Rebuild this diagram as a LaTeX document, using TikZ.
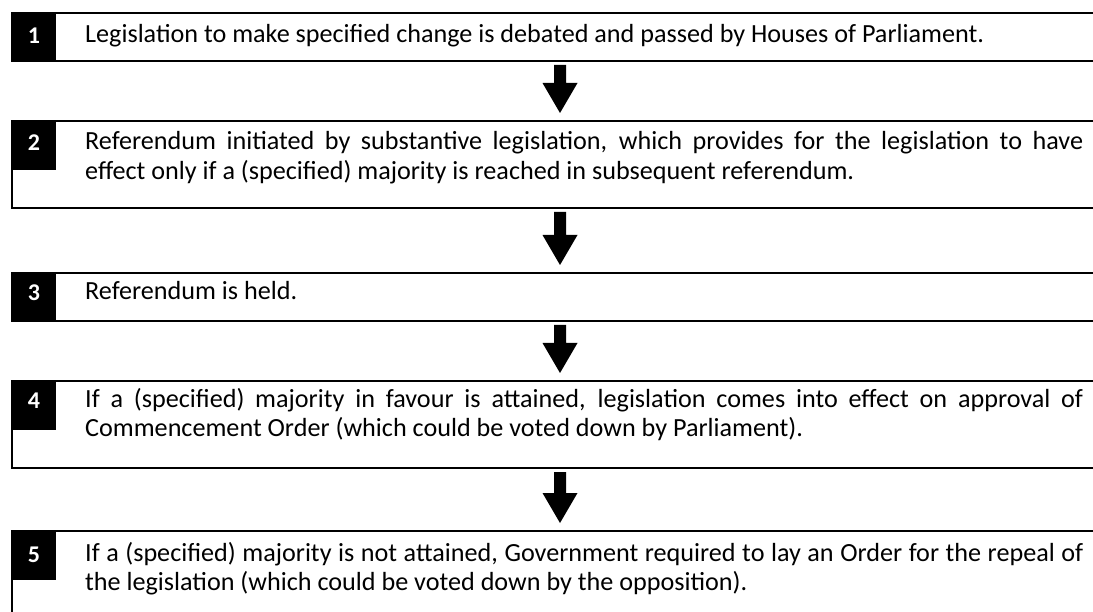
\documentclass[tikz,border=0pt]{standalone}
\usepackage{fontspec}
\setmainfont{Carlito}
\usetikzlibrary{calc}

% Downward block arrow between two stage boxes, centred on the arrow column
\newcommand\stagearrow[2]{%
  \fill ($(#1.south -| ax)+(-6,4)$) -- ($(#1.south -| ax)+(6,4)$)
     -- ($(#2.north -| ax)+(6,-38)$) -- ($(#2.north -| ax)+(17.5,-38)$)
     -- ($(#2.north -| ax)+(0,-8)$)
     -- ($(#2.north -| ax)+(-17.5,-38)$) -- ($(#2.north -| ax)+(-6,-38)$) -- cycle;}

\newlength\probewd

\begin{document}
% body size chosen so that this run of text is 615pt long
\settowidth\probewd{\fontsize{10}{12}\selectfont Legislation to make specified change is debated and passe}
\pgfmathsetmacro\bodysize{10*615/\probewd}
\begin{tikzpicture}[x=1pt,y=-1pt,
  rule/.style={line width=1.2pt},
  stage/.style={anchor=north west, minimum width=1081pt, inner sep=0pt, outer sep=0pt},
  numbox/.style={anchor=north west, fill=black, minimum width=44pt, minimum height=49pt, inner sep=0pt, outer sep=0pt},
  numlabel/.style={anchor=base, text=white, font=\fontsize{24}{24}\selectfont\bfseries, inner sep=0pt},
  bodytext/.style={anchor=base west, text width=998pt, align=justify, inner sep=0pt,
    font=\fontsize{\bodysize}{29.5}\selectfont},
]
\useasboundingbox (0,0) rectangle (1093,612);

% column of the arrows
\coordinate (ax) at (560,0);

% stage boxes
\node[stage, minimum height=48pt] (b1) at (12,13) {};
\node[stage, minimum height=87pt] (b2) at (12,121) {};
\node[stage, minimum height=48pt] (b3) at (12,273) {};
\node[stage, minimum height=87pt] (b4) at (12,381) {};
\node[stage, minimum height=100pt] (b5) at (12,531) {};

\foreach \b in {b1,b2,b3,b4}
  \draw[rule] (\b.north east) -- (\b.north west) -- (\b.south west) -- (\b.south east);
\draw[rule] (b5.north east) -- (b5.north west) -- (b5.south west);

% numbered tabs
\foreach \b/\n/\d in {b1/1/31,b2/2/30,b3/3/28,b4/4/27,b5/5/31}{
  \node[numbox] (n\n) at (\b.north west) {};
  \node[numlabel] (d\n) at ($(n\n.north)+(0,\d)$) {\n};
}

% texts
\node[bodytext] (t1) at ($(b1.north west)+(73,30)$)
  {Legislation to make specified change is debated and passed by Houses of Parliament.};
\node[bodytext] (t2) at ($(b2.north west)+(73,29)$)
  {Referendum initiated by substantive legislation, which provides for the legislation to have\linebreak
   effect only if a (specified) majority is reached in subsequent referendum.};
\node[bodytext] (t3) at ($(b3.north west)+(73,27)$)
  {Referendum is held.};
\node[bodytext] (t4) at ($(b4.north west)+(73,26)$)
  {If a (specified) majority in favour is attained, legislation comes into effect on approval of\linebreak
   Commencement Order (which could be voted down by Parliament).};
\node[bodytext] (t5) at ($(b5.north west)+(73,30)$)
  {If a (specified) majority is not attained, Government required to lay an Order for the repeal of\linebreak
   the legislation (which could be voted down by the opposition).};

% arrows between stages
\stagearrow{b1}{b2}
\stagearrow{b2}{b3}
\stagearrow{b3}{b4}
\stagearrow{b4}{b5}
\end{tikzpicture}
\end{document}
